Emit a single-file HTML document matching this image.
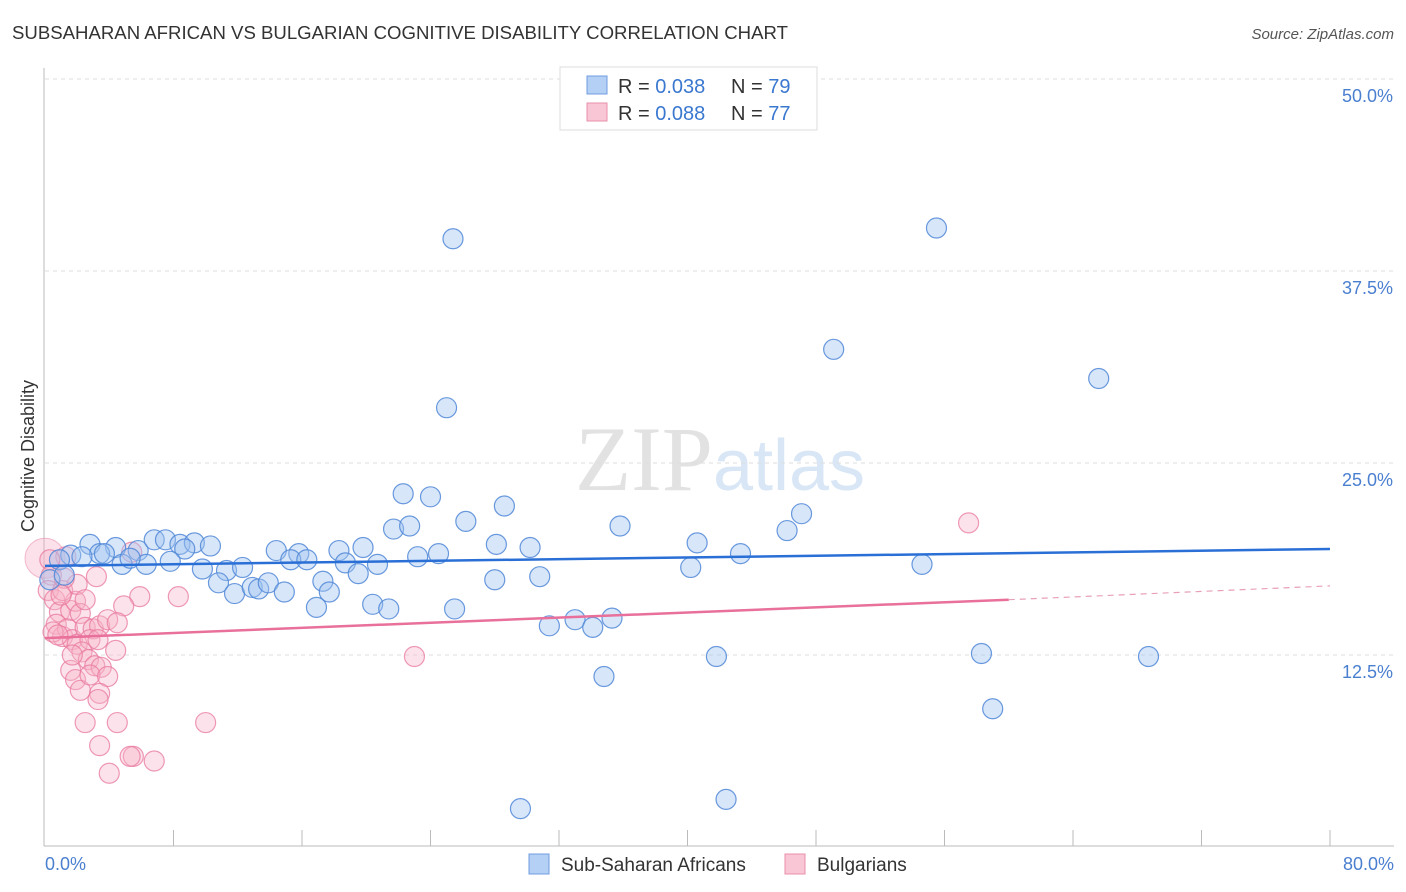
<!DOCTYPE html>
<html><head><meta charset="utf-8"><style>
body{margin:0;background:#fff;font-family:"Liberation Sans",sans-serif;}
svg{display:block}
</style></head><body>
<svg id="chart" width="1406" height="892" viewBox="0 0 1406 892" xmlns="http://www.w3.org/2000/svg">
<text x="12" y="39" font-size="18.6" fill="#333" font-family="Liberation Sans, sans-serif">SUBSAHARAN AFRICAN VS BULGARIAN COGNITIVE DISABILITY CORRELATION CHART</text>
<text x="1394" y="39" font-size="15" fill="#555" text-anchor="end" font-style="italic">Source: ZipAtlas.com</text>
<text x="720" y="490" font-size="92" text-anchor="middle" font-family="Liberation Serif, serif"><tspan fill="#e2e2e2">ZIP</tspan><tspan fill="#d8e6f6" font-family="Liberation Sans, sans-serif" font-size="72">atlas</tspan></text>
<g id="grid"></g>
<g id="axes"></g>
<g id="marks"></g>
<text transform="translate(34,456) rotate(-90)" font-size="18" fill="#333" text-anchor="middle">Cognitive Disability</text>
<text x="45" y="870" font-size="18" fill="#4a7fd0">0.0%</text>
<text x="1394" y="870" font-size="18" fill="#4a7fd0" text-anchor="end">80.0%</text>
<g>
<rect x="560" y="67" width="257" height="63" fill="#fff" stroke="#ddd"/>
<rect x="587" y="76" width="20" height="18" fill="#b5d0f5" stroke="#6f9de0"/>
<rect x="587" y="103" width="20" height="18" fill="#f9c6d5" stroke="#e98fab"/>
<text x="618" y="93" font-size="20" fill="#333">R = <tspan fill="#3a78d0">0.038</tspan></text>
<text x="731" y="93" font-size="20" fill="#333">N = <tspan fill="#3a78d0">79</tspan></text>
<text x="618" y="120" font-size="20" fill="#333">R = <tspan fill="#3a78d0">0.088</tspan></text>
<text x="731" y="120" font-size="20" fill="#333">N = <tspan fill="#3a78d0">77</tspan></text>
</g>
<g>
<rect x="529" y="854" width="20" height="20" fill="#b5d0f5" stroke="#6f9de0"/>
<text x="561" y="871" font-size="19" fill="#333">Sub-Saharan Africans</text>
<rect x="785" y="854" width="20" height="20" fill="#f9c6d5" stroke="#e98fab"/>
<text x="817" y="871" font-size="19" fill="#333">Bulgarians</text>
</g>
</svg>
<script>
const yTicks=[12.5,25,37.5,50];
const yTickLabels=["12.5%","25.0%","37.5%","50.0%"];
const xTicks=[8,16,24,32,40,48,56,64,72,80];
const blueX=[25.4,55.5,49.1,65.6,25.0,22.3,24.0,28.6,26.2,47.1,35.8,21.7,22.7,46.2,40.6,28.1,30.2,43.3,24.5,23.2,14.4,15.8,18.3,19.8,15.3,16.3,18.7,20.7,19.5,17.3,17.7,16.9,20.4,21.4,25.5,28.0,30.8,40.2,54.6,31.4,33.0,34.1,35.3,34.8,41.8,58.3,68.7,59.0,29.6,42.4,2.8,4.4,5.8,6.8,7.5,8.4,9.3,10.3,8.7,3.4,3.7,1.6,2.3,0.9,4.8,6.3,5.3,7.8,9.8,11.3,12.3,10.8,11.8,12.9,13.3,13.9,14.9,0.3,1.2];
const blueY=[39.6,40.3,32.4,30.5,28.6,23.0,22.8,22.2,21.2,21.7,20.9,20.7,20.9,20.6,19.8,19.7,19.5,19.1,19.1,18.9,19.3,19.1,19.3,19.5,18.7,18.7,18.5,18.4,17.8,17.3,16.6,15.6,15.8,15.5,15.5,17.4,17.6,18.2,18.4,14.4,14.8,14.3,14.9,11.1,12.4,12.6,12.4,9.0,2.5,3.1,19.7,19.5,19.3,20.0,20.0,19.7,19.8,19.6,19.4,19.1,19.1,19.0,18.9,18.7,18.4,18.4,18.8,18.6,18.1,18.0,18.2,17.2,16.5,16.9,16.8,17.2,16.6,17.4,17.7];
const pinkX=[57.5,23.0,10.0,8.3,5.9,4.9,5.4,3.2,1.3,0.3,0.4,0.2,0.6,0.9,0.7,1.1,1.6,1.9,2.2,1.4,1.7,2.0,2.5,3.0,3.4,3.9,4.5,2.8,3.3,2.3,2.7,3.1,3.5,1.6,1.9,2.2,2.8,3.9,3.4,3.3,2.5,4.5,3.4,5.5,5.3,6.8,4.0,1.1,2.0,2.5,1.2,1.7,4.4,0.5,0.8,1.0];
const pinkY=[21.1,12.4,8.1,16.3,16.3,15.7,19.2,17.6,18.9,18.7,17.7,16.7,16.1,15.3,14.5,13.7,15.4,16.0,15.2,14.2,13.5,13.2,14.3,14.2,14.4,14.8,14.6,13.5,13.5,12.7,12.2,11.8,11.7,11.5,10.9,10.2,11.2,11.1,10.0,9.6,8.1,8.1,6.6,5.9,5.9,5.6,4.8,16.7,17.1,16.1,17.5,12.5,12.8,14.0,13.8,16.4];
const blueTrend=[18.3,19.4];
const pinkTrend=[13.6,16.1,17.0];
const pinkSolidEnd=60;
const X0=45,X1=1330,Y0=847,Y50=79;
const sx=v=>X0+(X1-X0)*v/80;
const sy=v=>Y0-(Y0-Y50)*v/50;
const NS="http://www.w3.org/2000/svg";
function mk(tag,attrs,parent){const e=document.createElementNS(NS,tag);for(const k in attrs)e.setAttribute(k,attrs[k]);document.getElementById(parent).appendChild(e);return e;}
yTicks.forEach((t,i)=>{
 const l=mk('line',{x1:45,x2:1394,y1:sy(t),y2:sy(t),stroke:'#ddd','stroke-dasharray':'4,4'},'grid');
 
 
 const tx=mk('text',{x:1393,y:sy(t)+23,'font-size':18,fill:'#4a7fd0','text-anchor':'end'},'grid');
 tx.textContent=yTickLabels[i];
 
 
});
let a=mk('line',{x1:44,x2:44,y1:68,y2:846,stroke:'#bbb'},'axes');


a=mk('line',{x1:44,x2:1394,y1:846,y2:846,stroke:'#bbb'},'axes');


xTicks.forEach(t=>{
 const l=mk('line',{x1:sx(t),x2:sx(t),y1:830,y2:846,stroke:'#bbb'},'axes');
 
 
});
let big=mk('circle',{cx:sx(0),cy:sy(18.8),r:20,fill:'rgba(245,170,195,0.35)',stroke:'rgba(232,127,160,0.5)'},'marks');


pinkX.forEach((x,i)=>{
 const c=mk('circle',{cx:sx(x),cy:sy(pinkY[i]),r:10,fill:'rgba(247,178,200,0.38)',stroke:'rgba(232,120,158,0.75)','stroke-width':1.2},'marks');
 
 
});
blueX.forEach((x,i)=>{
 const c=mk('circle',{cx:sx(x),cy:sy(blueY[i]),r:10,fill:'rgba(160,196,240,0.42)',stroke:'rgba(80,135,215,0.85)','stroke-width':1.2},'marks');
 
 
});
let t=mk('line',{x1:sx(0),y1:sy(blueTrend[0]),x2:sx(80),y2:sy(blueTrend[1]),stroke:'#2a6fd6','stroke-width':2.5},'marks');


t=mk('line',{x1:sx(0),y1:sy(pinkTrend[0]),x2:sx(pinkSolidEnd),y2:sy(pinkTrend[1]),stroke:'#e8709a','stroke-width':2.5},'marks');


t=mk('line',{x1:sx(pinkSolidEnd),y1:sy(pinkTrend[1]),x2:sx(80),y2:sy(pinkTrend[2]),stroke:'#e8a0b8','stroke-width':1.2,'stroke-dasharray':'6,5'},'marks');


</script>
</body></html>
